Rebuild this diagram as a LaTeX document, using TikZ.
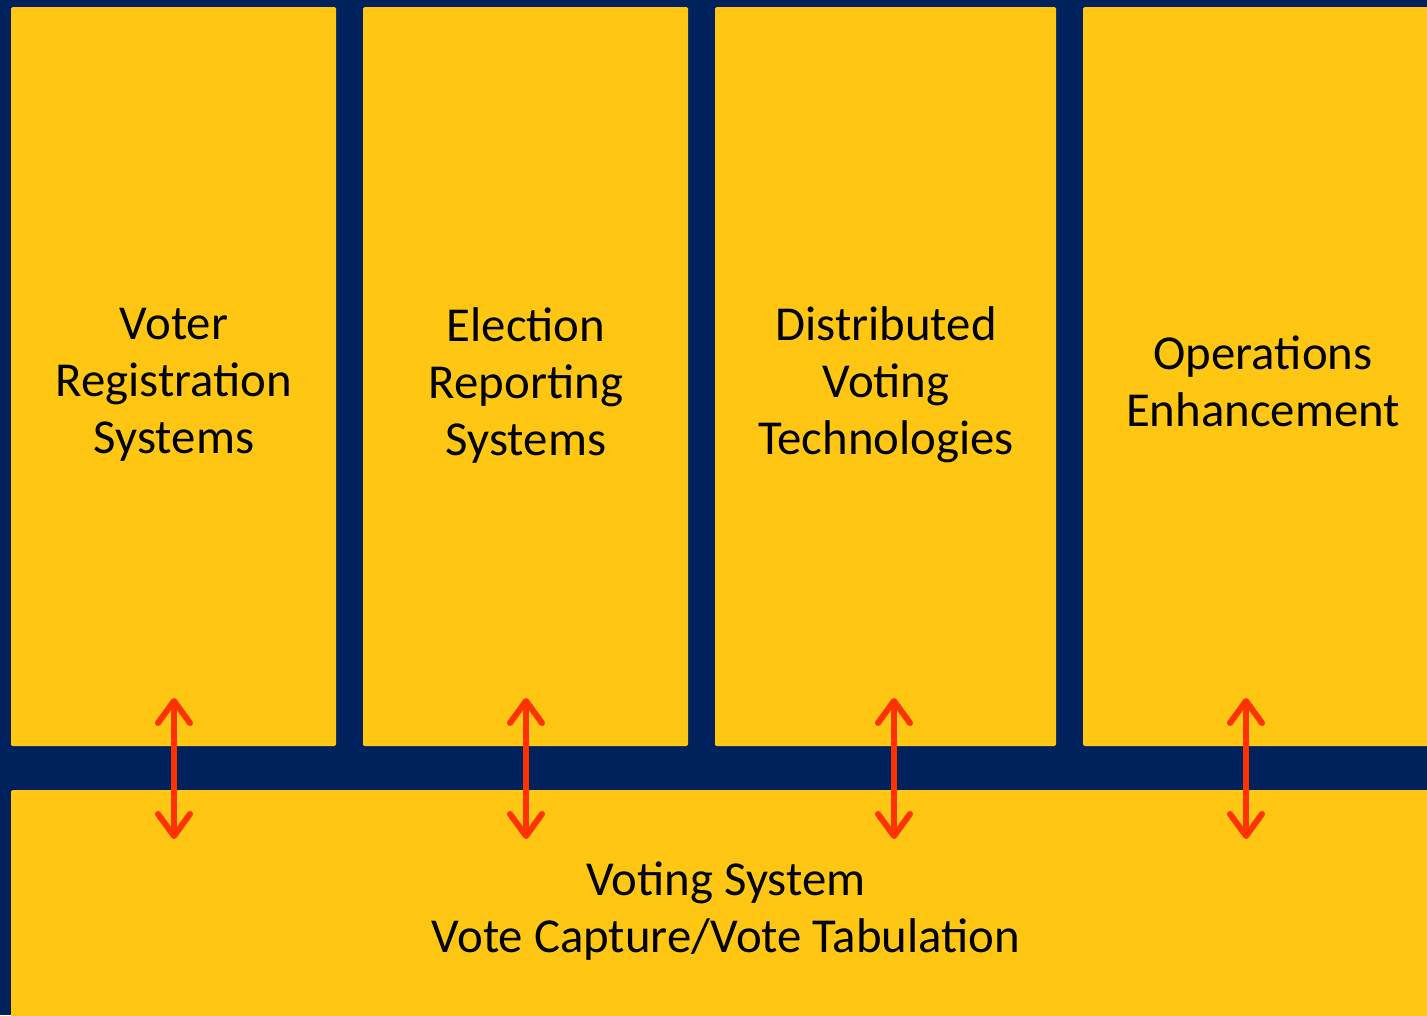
\documentclass[tikz,border=0pt]{standalone}
\usepackage{fontspec}
\setmainfont{Carlito}
\usetikzlibrary{arrows.meta}
\definecolor{navy}{RGB}{0,34,92}
\definecolor{gold}{RGB}{255,199,20}
\definecolor{redarrow}{RGB}{255,51,0}
\tikzset{
  panel/.style={fill=gold, draw=none, rounded corners=1.5pt},
  lbl/.style={align=center, font=\fontsize{48.8}{57}\selectfont, text=black, inner sep=0pt},
  link/.style={draw=redarrow, line width=6pt, line cap=round,
    {Straight Barb[length=22pt,width=32pt,round]}-{Straight Barb[length=22pt,width=32pt,round]}}
}
\begin{document}
\begin{tikzpicture}[x=1pt,y=-1pt]
\useasboundingbox (0,0) rectangle (1427,1015);
\fill[navy] (0,0) rectangle (1427,1015);
\path[panel] (11,7) rectangle (336,746);
\path[panel] (363,7) rectangle (688,746);
\path[panel] (715,7) rectangle (1056,746);
\path[panel] (1083,7) rectangle (1440,746);
\path[panel] (11,790) rectangle (1440,1030);
\node[lbl] (t1) at (174,385) {Voter\\Registration\\Systems};
\node[lbl] (t2) at (526,385) {Election\\Reporting\\Systems};
\node[lbl] (t3) at (886,385) {Distributed\\Voting\\Technologies};
\node[lbl] (t4) at (1263,381) {Operations\\Enhancement};
\node[lbl] (t5) at (726,911) {Voting System\\Vote Capture/Vote Tabulation};
\foreach \n/\x in {1/174,2/526,3/894,4/1246}{
  \coordinate (a\n) at (\x,698);
  \coordinate (b\n) at (\x,839);
  \draw[link] (a\n) -- (b\n);
}
\end{tikzpicture}
\end{document}
